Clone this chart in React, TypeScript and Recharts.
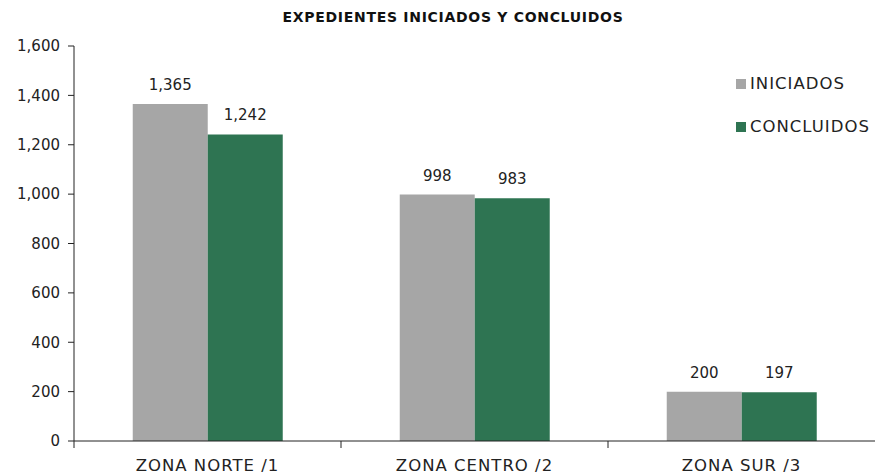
import { BarChart, Bar, XAxis, YAxis, LabelList } from "recharts";

const zonas = ["ZONA NORTE /1", "ZONA CENTRO /2", "ZONA SUR /3"];
const iniciados = [1365, 998, 200];
const concluidos = [1242, 983, 197];
const yTicks = [0, 200, 400, 600, 800, 1000, 1200, 1400, 1600];

const data = zonas.map((zona, i) => ({
  zona,
  iniciados: iniciados[i],
  concluidos: concluidos[i],
}));

const W = 875;
const H = 474;
const LEFT = 74;
const band = (W - LEFT) / zonas.length;
const font = "'DejaVu Sans', sans-serif";
const fmt = (v: any) => Number(v).toLocaleString("en-US");

const ZonaTick = (props: any) => {
  const { x, y, payload } = props;
  return (
    <g>
      <line x1={x - band / 2} x2={x - band / 2} y1={y - 8} y2={y - 1} stroke="#222" />
      <text
        x={x}
        y={y + 22}
        textAnchor="middle"
        fill="#222"
        fontSize={16.5}
        letterSpacing={1}
        fontFamily={font}
      >
        {payload.value}
      </text>
    </g>
  );
};

const legendItems = [
  { name: "INICIADOS", color: "#A6A6A6" },
  { name: "CONCLUIDOS", color: "#2E7452" },
];

export default function App() {
  return (
    <div style={{ position: "absolute", left: 0, top: 0, width: W, height: H, background: "#fff" }}>
      <div
        style={{
          position: "absolute",
          top: 9,
          left: 253,
          width: 400,
          textAlign: "center",
          fontFamily: font,
          fontSize: 14,
          letterSpacing: 0.7,
          fontWeight: "bold",
          color: "#111",
        }}
      >
        EXPEDIENTES INICIADOS Y CONCLUIDOS
      </div>
      <div
        style={{
          position: "absolute",
          top: 62,
          left: 736,
          fontFamily: font,
          fontSize: 16.5,
          letterSpacing: 1,
          color: "#222",
          zIndex: 2,
        }}
      >
        {legendItems.map((it) => (
          <div key={it.name} style={{ display: "flex", alignItems: "center", height: 43 }}>
            <span style={{ width: 10, height: 10, background: it.color, marginRight: 4 }} />
            {it.name}
          </div>
        ))}
      </div>
      <BarChart
        width={W}
        height={H}
        data={data}
        margin={{ top: 46, right: 0, bottom: 0, left: 0 }}
        barCategoryGap="22%"
        barGap={0}
      >
        <XAxis
          dataKey="zona"
          height={33}
          axisLine={{ stroke: "#222" }}
          tickLine={false}
          tick={<ZonaTick />}
          interval={0}
        />
        <YAxis
          width={LEFT}
          domain={[0, 1600]}
          ticks={yTicks}
          tickFormatter={fmt}
          axisLine={{ stroke: "#222" }}
          tickLine={{ stroke: "#222" }}
          tickSize={6}
          tickMargin={8}
          tick={{ fill: "#222", fontSize: 15, fontFamily: font }}
        />
        <Bar dataKey="iniciados" name="INICIADOS" fill="#A6A6A6" isAnimationActive={false}>
          <LabelList
            dataKey="iniciados"
            position="top"
            offset={14}
            formatter={fmt}
            style={{ fill: "#222", fontSize: 15, fontFamily: font }}
          />
        </Bar>
        <Bar dataKey="concluidos" name="CONCLUIDOS" fill="#2E7452" isAnimationActive={false}>
          <LabelList
            dataKey="concluidos"
            position="top"
            offset={14}
            formatter={fmt}
            style={{ fill: "#222", fontSize: 15, fontFamily: font }}
          />
        </Bar>
      </BarChart>
    </div>
  );
}
